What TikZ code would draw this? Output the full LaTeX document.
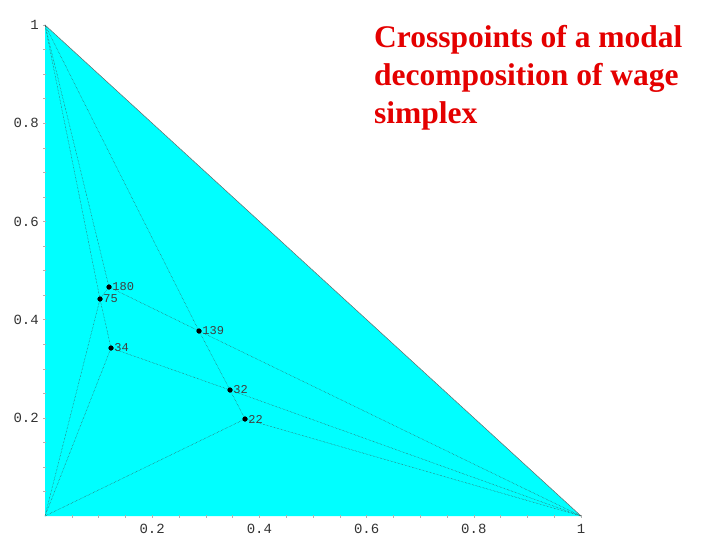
\documentclass[tikz,border=0pt]{standalone}
\usepackage{fontspec}
\setmainfont{Liberation Serif}
\newfontfamily\monofont{Liberation Mono}
\definecolor{titlered}{RGB}{228,0,0}
\definecolor{simplexfill}{RGB}{0,255,255}
\begin{document}
\begin{tikzpicture}[x=1pt,y=-1pt,
  modline/.style={black!75, line width=0.45pt, densely dotted},
  crosspt/.style={circle, fill=black, inner sep=0pt, minimum size=5pt},
  ptlabel/.style={font=\monofont\fontsize{12}{12}\selectfont, text=black!75, anchor=west, inner sep=0.5pt},
  axlabel/.style={font=\monofont\fontsize{14}{14}\selectfont, text=black!80, inner sep=0pt},
  axtick/.style={black!30, line width=0.4pt}]
\useasboundingbox (0,0) rectangle (720,540);
\coordinate (O) at (45,516);
\coordinate (A) at (581,516);
\coordinate (T) at (45,25);
\fill[simplexfill] (O) -- (A) -- (T) -- cycle;
\foreach \i in {1,...,20} {
  \draw[axtick] ({45+26.8*\i},515) -- ({45+26.8*\i},518);
  \draw[axtick] (43,{516-24.55*\i}) -- (46,{516-24.55*\i});
}
\draw[black!60, line width=0.5pt] (T) -- (A);
% crosspoints
\node[crosspt] (p180) at (109,287) {};
\node[crosspt] (p75) at (100,299) {};
\node[crosspt] (p34) at (111,348) {};
\node[crosspt] (p139) at (199,331) {};
\node[crosspt] (p32) at (230,390) {};
\node[crosspt] (p22) at (245,419) {};
% lines
\draw[modline] (T) -- (p180.center);
\draw[modline] (T) -- (p75.center);
\draw[modline] (p180.center) -- (p75.center);
\draw[modline] (p75.center) -- (p34.center);
\draw[modline] (O) -- (p75.center);
\draw[modline] (O) -- (p34.center);
\draw[modline] (O) -- (p22.center);
\draw[modline] (T) -- (p139.center);
\draw[modline] (p139.center) -- (p32.center);
\draw[modline] (p32.center) -- (p22.center);
\draw[modline] (p180.center) -- (p139.center);
\draw[modline] (p139.center) -- (A);
\draw[modline] (p34.center) -- (p32.center);
\draw[modline] (p32.center) -- (A);
\draw[modline] (p22.center) -- (A);
% redraw dots on top
\foreach \p in {p180,p75,p34,p139,p32,p22} { \fill (\p) circle (2.5pt); }
% point labels
\node[ptlabel] (l180) at (p180.east) {180};
\node[ptlabel] (l75) at (p75.east) {75};
\node[ptlabel] (l34) at (p34.east) {34};
\node[ptlabel] (l139) at (p139.east) {139};
\node[ptlabel] (l32) at (p32.east) {32};
\node[ptlabel] (l22) at (p22.east) {22};
% axis labels
\node[axlabel, anchor=east] (y1) at (39,25) {1};
\node[axlabel, anchor=east] (y08) at (39,123.2) {0.8};
\node[axlabel, anchor=east] (y06) at (39,221.4) {0.6};
\node[axlabel, anchor=east] (y04) at (39,319.6) {0.4};
\node[axlabel, anchor=east] (y02) at (39,417.8) {0.2};
\node[axlabel] (x02) at (152.2,529) {0.2};
\node[axlabel] (x04) at (259.4,529) {0.4};
\node[axlabel] (x06) at (366.6,529) {0.6};
\node[axlabel] (x08) at (473.8,529) {0.8};
\node[axlabel] (x1) at (581,529) {1};
% title
\node[anchor=base west, align=left, text=titlered, font=\bfseries\fontsize{31.5}{38}\selectfont, inner sep=0pt] (title) at (374,124) {Crosspoints of a modal\\decomposition of wage\\simplex};
\end{tikzpicture}
\end{document}
